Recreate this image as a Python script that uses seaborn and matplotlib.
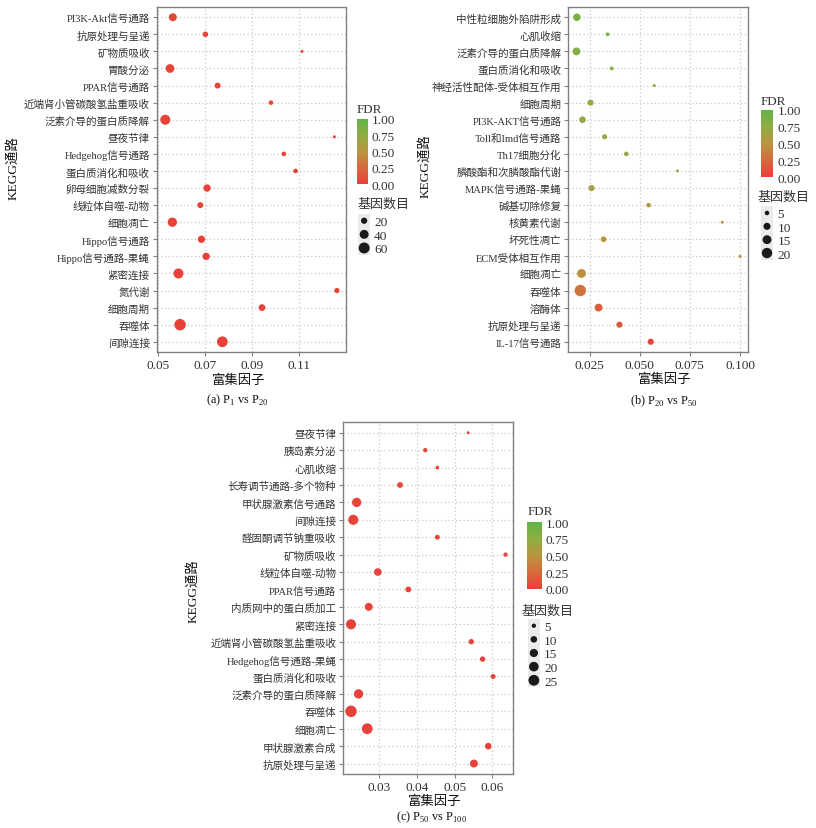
import numpy as np
import pandas as pd
import matplotlib
matplotlib.use("Agg")
import matplotlib.pyplot as plt
import seaborn as sns
from matplotlib.colors import LinearSegmentedColormap, Normalize
from matplotlib.cm import ScalarMappable
from matplotlib.ticker import FormatStrFormatter

sns.set_theme(style="white")
plt.rcParams["font.family"] = ["Liberation Serif", "Noto Sans CJK SC"]
plt.rcParams["mathtext.fontset"] = "custom"
plt.rcParams["mathtext.rm"] = "Liberation Serif"
plt.rcParams["axes.unicode_minus"] = False

# ---------------- data ----------------
a_paths = ["PI3K-Akt信号通路", "抗原处理与呈递", "矿物质吸收", "胃酸分泌", "PPAR信号通路",
           "近端肾小管碳酸氢盐重吸收", "泛素介导的蛋白质降解", "昼夜节律", "Hedgehog信号通路",
           "蛋白质消化和吸收", "卵母细胞减数分裂", "线粒体自噬-动物", "细胞凋亡", "Hippo信号通路",
           "Hippo信号通路-果蝇", "紧密连接", "氮代谢", "细胞周期", "吞噬体", "间隙连接"]
a_ratio = [0.0564, 0.0703, 0.1114, 0.0552, 0.0755, 0.0982, 0.0532, 0.1252, 0.1037, 0.1087,
           0.0710, 0.0681, 0.0562, 0.0686, 0.0706, 0.0588, 0.1263, 0.0944, 0.0595, 0.0775]
a_count = [32, 16, 5, 38, 18, 11, 50, 5, 11, 11, 27, 18, 43, 27, 27, 50, 14, 23, 65, 57]
a_fdr = [0.045, 0.04, 0.04, 0.035, 0.03, 0.03, 0.025, 0.025, 0.02, 0.02,
         0.015, 0.015, 0.01, 0.01, 0.008, 0.006, 0.005, 0.003, 0.002, 0.001]
a_xticks = [0.05, 0.07, 0.09, 0.11]
a_size_breaks = [20, 40, 60]

b_paths = ["中性粒细胞外陷阱形成", "心肌收缩", "泛素介导的蛋白质降解", "蛋白质消化和吸收",
           "神经活性配体-受体相互作用", "细胞周期", "PI3K-AKT信号通路", "Toll和Imd信号通路",
           "Th17细胞分化", "膦酸酯和次膦酸酯代谢", "MAPK信号通路-果蝇", "碱基切除修复",
           "核黄素代谢", "坏死性凋亡", "ECM受体相互作用", "细胞凋亡", "吞噬体", "溶酶体",
           "抗原处理与呈递", "IL-17信号通路"]
b_ratio = [0.0187, 0.0340, 0.0185, 0.0360, 0.0572, 0.0255, 0.0215, 0.0325, 0.0433, 0.0688,
           0.0260, 0.0544, 0.0911, 0.0320, 0.1000, 0.0210, 0.0204, 0.0295, 0.0399, 0.0555]
b_count = [11, 4, 12, 4, 3, 8, 9, 6, 5, 3, 8, 5, 3, 7, 3, 15, 24, 12, 8, 8]
b_fdr = [0.86, 0.85, 0.83, 0.77, 0.76, 0.73, 0.70, 0.69, 0.67, 0.65,
         0.63, 0.56, 0.53, 0.50, 0.50, 0.47, 0.30, 0.18, 0.15, 0.03]
b_xticks = [0.025, 0.050, 0.075, 0.100]
b_size_breaks = [5, 10, 15, 20]

c_paths = ["昼夜节律", "胰岛素分泌", "心肌收缩", "长寿调节通路-多个物种", "甲状腺激素信号通路",
           "间隙连接", "醛固酮调节钠重吸收", "矿物质吸收", "线粒体自噬-动物", "PPAR信号通路",
           "内质网中的蛋白质加工", "紧密连接", "近端肾小管碳酸氢盐重吸收", "Hedgehog信号通路-果蝇",
           "蛋白质消化和吸收", "泛素介导的蛋白质降解", "吞噬体", "细胞凋亡", "甲状腺激素合成",
           "抗原处理与呈递"]
c_ratio = [0.0536, 0.0422, 0.0454, 0.0355, 0.0240, 0.0231, 0.0454, 0.0635, 0.0296, 0.0377,
           0.0272, 0.0225, 0.0544, 0.0574, 0.0602, 0.0245, 0.0225, 0.0268, 0.0589, 0.0551]
c_count = [3, 5, 4, 8, 19, 22, 6, 5, 13, 8, 14, 22, 7, 7, 6, 19, 28, 25, 10, 14]
c_fdr = [0.04, 0.04, 0.035, 0.035, 0.03, 0.03, 0.025, 0.025, 0.02, 0.02,
         0.015, 0.015, 0.012, 0.01, 0.008, 0.006, 0.004, 0.003, 0.002, 0.001]
c_xticks = [0.03, 0.04, 0.05, 0.06]
c_size_breaks = [5, 10, 15, 20, 25]

fdr_ticks = [0.0, 0.25, 0.5, 0.75, 1.0]

# ---------------- style ----------------
W, H = 816, 829
fig = plt.figure(figsize=(W / 100, H / 100), dpi=100)
fig.patch.set_facecolor("white")

cmap = LinearSegmentedColormap.from_list(
    "fdr", [(0.0, "#E8403A"), (0.25, "#D56A3B"), (0.5, "#BA9440"), (0.75, "#8FAD43"), (1.0, "#62B447")])
SIZES = (4.7, 68.0)
SPINE = "#808080"
TXT = "#333333"


def px_axes(l, t, r, b):
    return fig.add_axes([l / W, 1 - b / H, (r - l) / W, (b - t) / H])


def ftext(x, y, s, **kw):
    return fig.text(x / W, 1 - y / H, s, **kw)


def panel(box, paths, ratio, count, fdr, xticks, fmt, cbar_box, fdr_title, size_box, size_title,
          breaks, xlab_pos, ylab_pos, cap_pos, caption):
    df = pd.DataFrame({"path": paths, "ratio": ratio, "count": count, "fdr": fdr})
    ax = px_axes(*box)
    snorm = (min(count), max(count))
    sns.scatterplot(data=df, x="ratio", y="path", hue="fdr", size="count", palette=cmap,
                    hue_norm=(0, 1), sizes=SIZES, size_norm=snorm, linewidth=0,
                    legend=False, ax=ax, zorder=3)
    n = len(paths)
    ax.set_ylim(n - 1 + 0.6, -0.6)
    lo, hi = min(ratio), max(ratio)
    pad = 0.05 * (hi - lo)
    ax.set_xlim(lo - pad, hi + pad)
    ax.set_xticks(xticks)
    ax.xaxis.set_major_formatter(FormatStrFormatter(fmt))
    ax.set_xlabel("")
    ax.set_ylabel("")
    ax.grid(True, linestyle=(0, (1, 2)), color="#C8C8C8", linewidth=0.9)
    ax.set_axisbelow(True)
    for sp in ax.spines.values():
        sp.set_color(SPINE)
        sp.set_linewidth(1.0)
        sp.set_visible(True)
    ax.tick_params(axis="both", which="major", direction="out", length=3, width=0.8,
                   color=SPINE, labelcolor=TXT, pad=2, bottom=True, left=True)
    ax.tick_params(axis="y", labelsize=7.6)
    ax.tick_params(axis="x", labelsize=9.6)
    ax.set_facecolor("white")

    # colour bar
    cax = px_axes(*cbar_box)
    cb = fig.colorbar(ScalarMappable(norm=Normalize(0, 1), cmap=cmap), cax=cax)
    cb.outline.set_visible(False)
    cb.set_ticks(fdr_ticks)
    cb.set_ticklabels(["%.2f" % t for t in fdr_ticks])
    cax.tick_params(length=2.5, width=0.8, color="white", direction="in", labelsize=9.6,
                    labelcolor=TXT, pad=3)
    ftext(fdr_title[0], fdr_title[1], "FDR", fontsize=9.4, va="center", ha="left", color=TXT)

    # size legend
    lax = px_axes(*size_box)
    lax.set_facecolor("#EBEBEB")
    ldf = pd.DataFrame({"x": [0] * len(breaks), "y": list(range(len(breaks))), "count": breaks})
    sns.scatterplot(data=ldf, x="x", y="y", size="count", sizes=SIZES, size_norm=snorm,
                    color="#1A1A1A", linewidth=0, legend=False, ax=lax)
    lax.set_xlim(-1, 1)
    lax.set_ylim(len(breaks) - 0.5, -0.5)
    lax.set_xticks([])
    lax.set_yticks(range(len(breaks)))
    lax.set_yticklabels([str(b) for b in breaks])
    lax.yaxis.tick_right()
    lax.tick_params(axis="y", length=0, pad=3, labelsize=9.6, labelcolor=TXT)
    lax.set_xlabel("")
    lax.set_ylabel("")
    for sp in lax.spines.values():
        sp.set_visible(False)
    ftext(size_title[0], size_title[1], "基因数目", fontsize=9.4, va="center", ha="left", color=TXT)

    ftext(xlab_pos[0], xlab_pos[1], "富集因子", fontsize=9.6, ha="center", va="center", color="#111111")
    ftext(ylab_pos[0], ylab_pos[1], "KEGG通路", fontsize=9.6, ha="center", va="center",
          rotation=90, color="#111111")
    ftext(cap_pos[0], cap_pos[1], caption, fontsize=8.8, ha="center", va="center", color="#111111")
    return ax


panel((156.7, 8, 345.5, 353), a_paths, a_ratio, a_count, a_fdr, a_xticks, "%.2f",
      (357.3, 120, 367.5, 185), (357, 110), (358.3, 214.9, 370, 255.8), (357.3, 205),
      a_size_breaks, (239, 381), (12.7, 168), (237, 400),
      r"(a) P$_\mathregular{1}$ vs P$_\mathregular{20}$")

panel((568.3, 8, 748.3, 353), b_paths, b_ratio, b_count, b_fdr, b_xticks, "%.3f",
      (760.7, 110.7, 773.3, 178.3), (760.7, 101.7), (760.7, 207.3, 773.3, 260.7), (758, 197.3),
      b_size_breaks, (665, 380), (425, 166), (664, 401),
      r"(b) P$_\mathregular{20}$ vs P$_\mathregular{50}$")

panel((343.3, 423.3, 513.3, 775), c_paths, c_ratio, c_count, c_fdr, c_xticks, "%.2f",
      (527.3, 523.3, 541.7, 590), (528, 511.7), (527.7, 619.9, 540, 688.1), (521, 611.7),
      c_size_breaks, (435, 801.7), (193, 591), (432, 817),
      r"(c) P$_\mathregular{50}$ vs P$_\mathregular{100}$")

fig.savefig("out.png", dpi=100, facecolor="white")
